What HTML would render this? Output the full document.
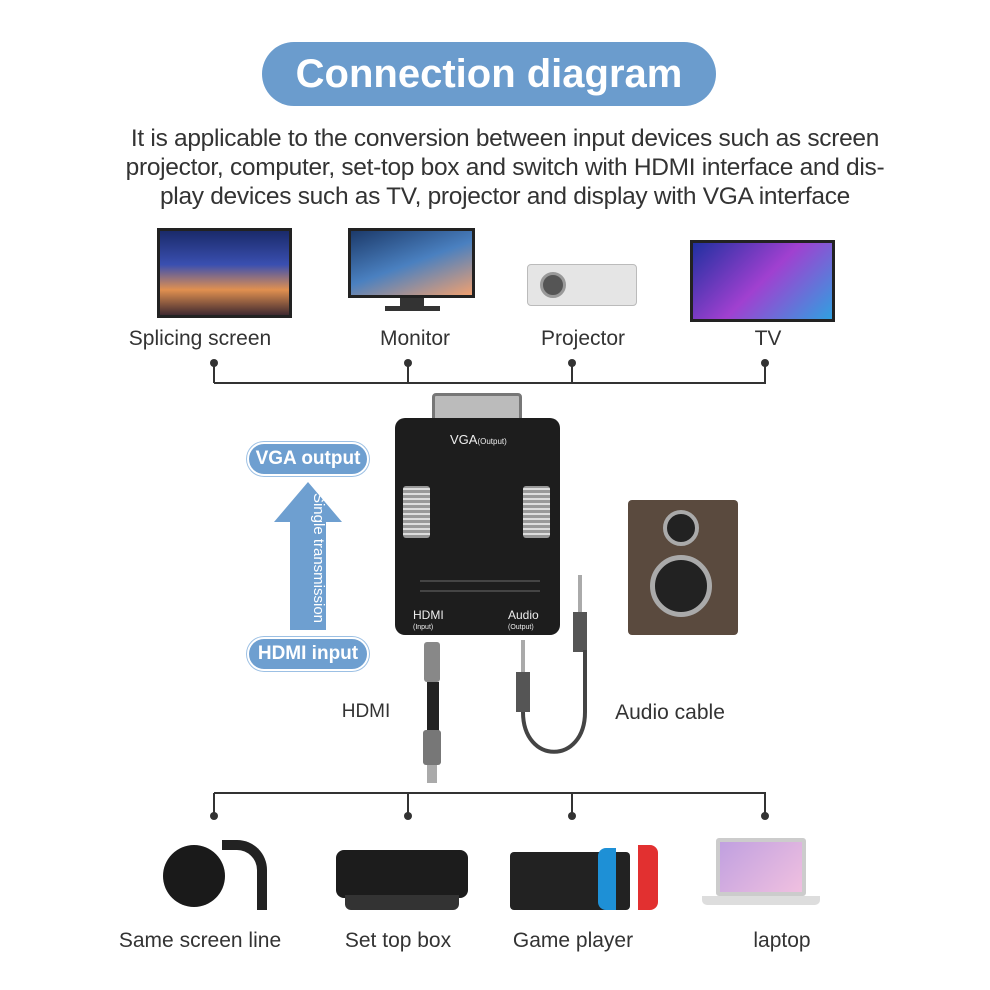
<!DOCTYPE html>
<html><head><meta charset="utf-8"><style>
*{margin:0;padding:0;box-sizing:border-box}
body{width:990px;height:990px;background:#fff;position:relative;overflow:hidden;font-family:"Liberation Sans",sans-serif;color:#333}
.a{position:absolute}
.lbl{position:absolute;font-size:21px;color:#333;transform:translateX(-50%);white-space:nowrap}
.pill{position:absolute;background:#6e9fd0;color:#fff;font-weight:bold;border-radius:18px;text-align:center;border:2px solid #fff;box-shadow:0 0 0 1px #9cc0e4}
.ln{position:absolute;background:#333}
.dot{position:absolute;width:8px;height:8px;border-radius:50%;background:#333}
</style></head><body>
<div class="a" style="left:262px;top:42px;width:454px;height:64px;background:#6b9ccd;border-radius:32px;color:#fff;font-weight:bold;font-size:40px;text-align:center;line-height:64px">Connection diagram</div>
<div class="a" style="left:60px;top:124px;width:890px;text-align:center;font-size:24.5px;line-height:29px;color:#333;letter-spacing:-0.3px">It is applicable to the conversion between input devices such as screen<br>projector, computer, set-top box and switch with HDMI interface and dis-<br>play devices such as TV, projector and display with VGA interface</div>

<!-- top devices -->
<div class="a" style="left:157px;top:228px;width:135px;height:90px;background:linear-gradient(180deg,#1a2a6a,#3a4fb0 40%,#e09050 70%,#402a30);border:3px solid #222"></div>
<div class="a" style="left:348px;top:228px;width:127px;height:70px;background:linear-gradient(160deg,#1c3a6a,#4a80c0 50%,#f0a070);border:3px solid #222"></div>
<div class="a" style="left:400px;top:298px;width:24px;height:10px;background:#333"></div>
<div class="a" style="left:385px;top:306px;width:55px;height:5px;background:#333"></div>
<div class="a" style="left:527px;top:264px;width:110px;height:42px;background:#e5e5e5;border-radius:4px;border:1px solid #bbb"></div>
<div class="a" style="left:540px;top:272px;width:26px;height:26px;border-radius:50%;background:#555;border:3px solid #999"></div>
<div class="a" style="left:690px;top:240px;width:145px;height:82px;background:linear-gradient(135deg,#2030a0,#a040d0 50%,#30a0e0);border:3px solid #222"></div>
<div class="lbl" style="left:200px;top:327px">Splicing screen</div>
<div class="lbl" style="left:415px;top:327px">Monitor</div>
<div class="lbl" style="left:583px;top:327px">Projector</div>
<div class="lbl" style="left:768px;top:327px">TV</div>

<!-- top connector -->
<div class="ln" style="left:214px;top:382px;width:552px;height:2px"></div>
<div class="ln" style="left:213px;top:362px;width:2px;height:21px"></div>
<div class="ln" style="left:407px;top:362px;width:2px;height:21px"></div>
<div class="ln" style="left:571px;top:362px;width:2px;height:21px"></div>
<div class="ln" style="left:764px;top:362px;width:2px;height:21px"></div>
<div class="dot" style="left:210px;top:359px"></div><div class="dot" style="left:404px;top:359px"></div><div class="dot" style="left:568px;top:359px"></div><div class="dot" style="left:761px;top:359px"></div>

<!-- adapter -->
<div class="a" style="left:432px;top:393px;width:90px;height:34px;background:#bbb;border:3px solid #777;border-radius:4px"></div>
<div class="a" style="left:395px;top:418px;width:165px;height:217px;background:#1d1d1d;border-radius:10px"></div>
<div class="a" style="left:450px;top:432px;color:#eee;font-size:13px">VGA<span style="font-size:8px">(Output)</span></div>
<div class="a" style="left:403px;top:486px;width:27px;height:52px;background:repeating-linear-gradient(0deg,#999 0 3px,#ddd 3px 5px);border-radius:3px"></div>
<div class="a" style="left:523px;top:486px;width:27px;height:52px;background:repeating-linear-gradient(0deg,#999 0 3px,#ddd 3px 5px);border-radius:3px"></div>
<div class="a" style="left:420px;top:580px;width:120px;height:2px;background:#444"></div>
<div class="a" style="left:420px;top:590px;width:120px;height:2px;background:#444"></div>
<div class="a" style="left:413px;top:610px;color:#eee;font-size:12px;line-height:10px">HDMI<br><span style="font-size:7px">(Input)</span></div>
<div class="a" style="left:508px;top:610px;color:#eee;font-size:12px;line-height:10px">Audio<br><span style="font-size:7px">(Output)</span></div>

<!-- left pills & arrow -->
<div class="pill" style="left:247px;top:442px;width:122px;height:34px;font-size:19px;line-height:30px">VGA output</div>
<div class="pill" style="left:247px;top:637px;width:122px;height:34px;font-size:19px;line-height:30px">HDMI input</div>
<svg class="a" style="left:272px;top:482px" width="72" height="150"><polygon points="36,0 70,40 54,40 54,148 18,148 18,40 2,40" fill="#6e9fd0"/></svg>
<div class="a" style="left:248px;top:548px;width:140px;height:20px;transform:rotate(90deg);color:#fff;font-size:15px;text-align:center;line-height:20px;white-space:nowrap">Single transmission</div>

<!-- speaker -->
<div class="a" style="left:628px;top:500px;width:110px;height:135px;background:#5a4a3e;border-radius:4px"></div>
<div class="a" style="left:663px;top:510px;width:36px;height:36px;border-radius:50%;background:#222;border:4px solid #aaa"></div>
<div class="a" style="left:650px;top:555px;width:62px;height:62px;border-radius:50%;background:#222;border:5px solid #aaa"></div>

<!-- cables -->
<div class="a" style="left:424px;top:642px;width:16px;height:40px;background:#888;border-radius:3px"></div>
<div class="a" style="left:427px;top:682px;width:12px;height:50px;background:#222"></div>
<div class="a" style="left:423px;top:730px;width:18px;height:35px;background:#777;border-radius:3px"></div>
<div class="a" style="left:427px;top:765px;width:10px;height:18px;background:#aaa"></div>
<div class="a" style="left:578px;top:575px;width:4px;height:40px;background:#aaa"></div>
<div class="a" style="left:573px;top:612px;width:14px;height:40px;background:#555"></div>
<div class="a" style="left:521px;top:640px;width:4px;height:35px;background:#aaa"></div>
<div class="a" style="left:516px;top:672px;width:14px;height:40px;background:#555"></div>
<svg class="a" style="left:510px;top:640px" width="90" height="130"><path d="M13 72 C13 125 75 125 75 72 L75 10" fill="none" stroke="#444" stroke-width="4"/></svg>
<div class="lbl" style="left:366px;top:701px;font-size:19px">HDMI</div>
<div class="lbl" style="left:670px;top:701px">Audio cable</div>

<!-- bottom connector -->
<div class="ln" style="left:214px;top:792px;width:552px;height:2px"></div>
<div class="ln" style="left:213px;top:793px;width:2px;height:22px"></div>
<div class="ln" style="left:407px;top:793px;width:2px;height:22px"></div>
<div class="ln" style="left:571px;top:793px;width:2px;height:22px"></div>
<div class="ln" style="left:764px;top:793px;width:2px;height:22px"></div>
<div class="dot" style="left:210px;top:812px"></div><div class="dot" style="left:404px;top:812px"></div><div class="dot" style="left:568px;top:812px"></div><div class="dot" style="left:761px;top:812px"></div>

<!-- bottom devices -->
<div class="a" style="left:163px;top:845px;width:62px;height:62px;border-radius:50%;background:#1a1a1a"></div>
<div class="a" style="left:222px;top:840px;width:45px;height:70px;border:10px solid #222;border-left:none;border-bottom:none;border-radius:0 30px 0 0"></div>
<div class="a" style="left:336px;top:850px;width:132px;height:48px;background:#1c1c1c;border-radius:8px"></div>
<div class="a" style="left:345px;top:895px;width:114px;height:15px;background:#333;border-radius:0 0 6px 6px"></div>
<div class="a" style="left:510px;top:852px;width:120px;height:58px;background:#222;border-radius:4px"></div>
<div class="a" style="left:598px;top:848px;width:18px;height:62px;background:#1e90d6;border-radius:8px 0 0 8px"></div>
<div class="a" style="left:638px;top:845px;width:20px;height:65px;background:#e23030;border-radius:0 8px 8px 0"></div>
<div class="a" style="left:716px;top:838px;width:90px;height:58px;background:linear-gradient(135deg,#c0a0e0,#f0c0e0);border:4px solid #ccc;border-radius:3px"></div>
<div class="a" style="left:702px;top:896px;width:118px;height:9px;background:#ddd;border-radius:0 0 5px 5px"></div>
<div class="lbl" style="left:200px;top:929px">Same screen line</div>
<div class="lbl" style="left:398px;top:929px">Set top box</div>
<div class="lbl" style="left:573px;top:929px">Game player</div>
<div class="lbl" style="left:782px;top:929px">laptop</div>
</body></html>
